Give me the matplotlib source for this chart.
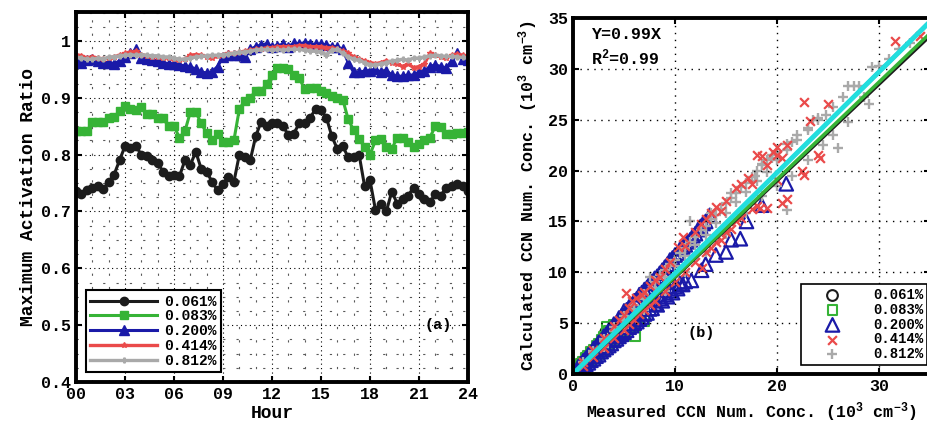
import numpy as np
import matplotlib
matplotlib.use('Agg')
import matplotlib.pyplot as plt
from matplotlib.ticker import MultipleLocator

plt.rcParams['font.family'] = ['Liberation Mono', 'DejaVu Sans Mono']
plt.rcParams['font.weight'] = 'bold'
plt.rcParams['axes.labelweight'] = 'bold'
plt.rcParams['mathtext.fontset'] = 'custom'
plt.rcParams['mathtext.rm'] = 'Liberation Mono:bold'
plt.rcParams['mathtext.it'] = 'Liberation Mono:bold'
plt.rcParams['mathtext.bf'] = 'Liberation Mono:bold'

# ---- panel (a): diurnal max activation ratio, 20-min steps ----
hours = np.arange(73) / 3.0
labels = ['0.061%', '0.083%', '0.200%', '0.414%', '0.812%']
ss061 = [0.736, 0.73, 0.738, 0.742, 0.745, 0.74, 0.752, 0.765, 0.79, 0.815, 0.812, 0.815,
         0.80, 0.798, 0.79, 0.785, 0.77, 0.762, 0.765, 0.762, 0.79, 0.782, 0.805, 0.775,
         0.77, 0.752, 0.737, 0.748, 0.76, 0.752, 0.80, 0.795, 0.79, 0.832, 0.858, 0.85,
         0.855, 0.855, 0.85, 0.835, 0.837, 0.855, 0.855, 0.865, 0.88, 0.878, 0.865, 0.832,
         0.81, 0.815, 0.795, 0.795, 0.80, 0.745, 0.755, 0.703, 0.714, 0.70, 0.735, 0.714,
         0.722, 0.728, 0.742, 0.73, 0.722, 0.717, 0.73, 0.728, 0.742, 0.745, 0.748, 0.745,
         0.736]
ss083 = [0.841, 0.841, 0.841, 0.858, 0.858, 0.858, 0.865, 0.866, 0.877, 0.885, 0.88, 0.878,
         0.883, 0.872, 0.872, 0.864, 0.864, 0.85, 0.85, 0.83, 0.841, 0.875, 0.875, 0.855,
         0.838, 0.825, 0.837, 0.822, 0.822, 0.825, 0.88, 0.895, 0.9, 0.912, 0.912, 0.924,
         0.94, 0.952, 0.952, 0.95, 0.94, 0.935, 0.915, 0.917, 0.917, 0.912, 0.908, 0.903,
         0.9, 0.897, 0.862, 0.843, 0.828, 0.813, 0.80, 0.825, 0.828, 0.813, 0.81, 0.83,
         0.83, 0.822, 0.813, 0.818, 0.825, 0.83, 0.85, 0.848, 0.837, 0.837, 0.838, 0.838,
         0.84]
ss200 = [0.965, 0.962, 0.966, 0.968, 0.965, 0.962, 0.962, 0.96, 0.965, 0.972, 0.978, 0.985,
         0.97, 0.968, 0.966, 0.965, 0.962, 0.96, 0.96, 0.958, 0.956, 0.955, 0.95, 0.945,
         0.944, 0.946, 0.955, 0.972, 0.976, 0.975, 0.975, 0.972, 0.985, 0.99, 0.993, 0.995,
         0.99, 0.992, 0.994, 0.99, 0.996, 0.995, 0.997, 0.995, 0.994, 0.995, 0.993, 0.99,
         0.99, 0.985, 0.962, 0.945, 0.945, 0.947, 0.948, 0.95, 0.945, 0.948, 0.94, 0.938,
         0.938, 0.94, 0.94, 0.945, 0.947, 0.955, 0.958, 0.955, 0.952, 0.965, 0.978, 0.968,
         0.966]
ss414 = [0.976, 0.974, 0.97, 0.972, 0.97, 0.968, 0.97, 0.972, 0.975, 0.978, 0.98, 0.982,
         0.976, 0.974, 0.972, 0.972, 0.97, 0.97, 0.968, 0.966, 0.968, 0.975, 0.976, 0.975,
         0.972, 0.97, 0.974, 0.976, 0.978, 0.978, 0.98, 0.982, 0.984, 0.985, 0.986, 0.988,
         0.988, 0.99, 0.99, 0.99, 0.99, 0.992, 0.992, 0.99, 0.99, 0.99, 0.988, 0.988,
         0.986, 0.982, 0.978, 0.972, 0.968, 0.965, 0.962, 0.96, 0.962, 0.965, 0.962, 0.96,
         0.955, 0.96, 0.953, 0.955, 0.96, 0.978, 0.975, 0.972, 0.97, 0.975, 0.977, 0.975,
         0.973]
ss812 = [0.972, 0.97, 0.968, 0.968, 0.97, 0.968, 0.972, 0.972, 0.974, 0.975, 0.976, 0.975,
         0.976, 0.975, 0.974, 0.974, 0.972, 0.972, 0.97, 0.968, 0.968, 0.97, 0.972, 0.973,
         0.974, 0.975, 0.975, 0.976, 0.977, 0.978, 0.98, 0.981, 0.982, 0.984, 0.985, 0.985,
         0.984, 0.985, 0.984, 0.985, 0.986, 0.985, 0.984, 0.983, 0.982, 0.98, 0.976, 0.984,
         0.985, 0.978, 0.972, 0.968, 0.966, 0.962, 0.958, 0.958, 0.96, 0.962, 0.965, 0.966,
         0.968, 0.966, 0.97, 0.97, 0.972, 0.974, 0.975, 0.974, 0.973, 0.973, 0.972, 0.971,
         0.97]

# ---- panel (b): measured vs calculated CCN (10^3 cm^-3) ----
meas061 = [0.2, 0.5, 1.0, 1.5, 2.0, 2.5, 3.0, 3.2, 0.8, 1.5, 2.5, 3.5, 4.0, 5.0]
calc061 = [0.2, 0.55, 1.1, 1.6, 2.2, 2.7, 3.2, 4.1, 0.6, 1.2, 2.1, 3.0, 3.6, 4.5]
meas083 = [0.3, 0.6, 1.0, 1.5, 2.0, 2.5, 3.0, 3.3, 3.5, 4.0, 0.5, 1.0, 1.5, 2.0, 2.5,
           3.0, 3.5, 4.0, 4.5, 5.0, 5.5, 6.1, 6.0, 6.5,
           0.8, 1.3, 1.8, 2.3, 2.8, 1.2, 1.7, 2.2, 2.7, 3.2, 3.8, 4.3, 4.8, 7.0]
calc083 = [0.35, 0.75, 1.2, 1.8, 2.4, 3.0, 3.6, 4.65, 4.2, 4.8, 0.4, 0.8, 1.2, 1.6, 2.0,
           2.4, 2.9, 3.3, 3.8, 4.2, 4.6, 3.7, 5.1, 5.6,
           1.0, 1.6, 2.2, 2.8, 3.4, 0.9, 1.35, 1.75, 2.2, 2.6, 3.1, 3.55, 4.0, 5.2]
meas200 = [0.5, 1.0, 1.5, 2.0, 2.5, 3.0, 3.5, 4.0, 4.5, 5.0, 5.5, 6.0, 6.5, 7.0, 7.5, 8.0,
           8.5, 9.0, 9.5, 10.0, 10.5, 11.0, 11.5, 12.0, 12.5, 13.0, 13.4,
           0.75, 1.25, 1.75, 2.25, 2.75, 3.25, 3.75, 4.25, 4.75, 5.25, 5.75, 6.25, 6.75,
           7.25, 7.75, 8.25, 8.75, 9.25, 9.75, 10.25, 10.75, 11.25, 11.75, 12.25, 12.75,
           0.5, 1.0, 1.5, 2.0, 2.5, 3.0, 3.5, 4.0, 4.5, 5.0, 5.5, 6.0, 6.5, 7.0, 7.5, 8.0,
           8.5, 9.0, 9.5, 10.0, 10.5, 11.0, 11.6, 12.6, 13.0, 14.0, 15.0, 15.5, 16.4, 17.0,
           18.5, 20.9,
           0.75, 1.25, 1.75, 2.25, 2.75, 3.25, 3.75, 4.25, 4.75, 5.25, 5.75, 6.25, 6.75,
           7.25, 7.75, 8.25, 8.75, 9.25, 9.75, 10.25, 10.75]
calc200 = [0.7, 1.3, 1.9, 2.5, 3.1, 3.7, 4.3, 4.9, 5.5, 6.2, 6.6, 7.2, 7.8, 8.3, 8.9, 9.4,
           9.9, 10.5, 11.2, 11.7, 12.3, 12.7, 13.2, 13.8, 14.5, 15.0, 15.6,
           1.0, 1.55, 2.1, 2.7, 3.3, 3.9, 4.5, 5.0, 5.7, 6.3, 6.8, 7.4, 8.0,
           8.5, 9.1, 9.6, 10.2, 10.8, 11.4, 11.9, 12.5, 13.0, 13.6, 14.2, 14.8,
           0.3, 0.7, 1.1, 1.5, 1.9, 2.4, 2.8, 3.3, 3.7, 4.1, 4.6, 5.0, 5.4, 5.9, 6.4, 6.9,
           7.4, 7.8, 8.2, 8.6, 8.9, 9.1, 9.2, 10.2, 10.8, 11.7, 12.0, 13.2, 13.3, 15.0,
           16.6, 18.7,
           0.55, 0.95, 1.35, 1.75, 2.2, 2.6, 3.0, 3.45, 3.9, 4.3, 4.75, 5.15, 5.6,
           6.0, 6.45, 6.8, 7.2, 7.6, 8.0, 8.4, 8.8]
meas414 = [1.0, 2.0, 3.0, 4.0, 5.0, 5.5, 6.2, 6.8, 7.5, 8.5, 9.5, 10.3, 10.8, 12.0, 13.0,
           14.0, 15.0, 16.0, 16.5, 17.2, 18.5, 19.6, 20.0, 20.5, 22.6, 23.2, 25.0, 31.6, 34.0,
           1.0, 2.0, 3.0, 4.0, 5.0, 6.0, 7.0, 8.0, 9.0, 10.0, 11.0, 12.0, 13.0, 14.0, 15.0,
           16.0, 17.5, 18.0, 19.0, 20.5, 21.0, 20.0, 22.6, 22.4, 24.0, 24.2,
           4.5, 5.2, 5.8, 7.0, 8.0, 9.0, 11.0, 12.5, 13.5, 14.5, 17.5, 18.0, 19.0, 20.0, 21.0,
           5.5, 6.5, 7.5, 12.6, 13.5, 14.5, 15.5, 16.5, 18.3]
calc414 = [1.2, 2.4, 3.5, 4.7, 5.8, 6.5, 7.5, 7.8, 8.7, 9.5, 11.0, 12.5, 13.5, 14.0, 15.2,
           16.4, 17.0, 18.3, 18.7, 19.3, 21.4, 21.8, 22.3, 21.2, 26.7, 24.9, 26.5, 32.7, 33.2,
           0.8, 1.7, 2.6, 3.5, 4.3, 5.3, 6.3, 7.2, 8.2, 9.0, 10.0, 11.0, 12.0, 13.0, 14.0,
           15.0, 16.2, 16.5, 16.3, 16.8, 17.2, 19.1, 19.6, 20.0, 21.5, 21.2,
           5.3, 8.0, 7.2, 8.1, 9.2, 10.3, 12.6, 14.7, 15.8, 16.0, 18.7, 21.5, 20.5, 21.5, 22.5,
           4.9, 5.9, 6.8, 10.4, 12.4, 13.2, 14.3, 15.3, 16.3]
meas812 = [1.0, 2.0, 3.0, 4.0, 5.0, 6.0, 7.0, 7.5, 8.0, 9.0, 10.0, 11.0, 11.5, 12.0, 13.0,
           13.5, 14.0, 15.0, 15.5, 16.0, 17.0, 17.8, 18.0, 18.5, 19.0, 19.5, 20.0, 21.0, 21.5,
           22.0, 23.0, 23.5, 24.0, 24.8, 25.5, 26.5, 27.0, 27.5, 28.0, 28.5, 29.3, 30.0, 31.0,
           32.0, 33.0,
           3.0, 5.0, 7.0, 9.0, 11.0, 13.0, 15.0, 17.0, 18.5, 20.0, 21.0, 21.5, 23.0, 24.5,
           26.0, 25.5, 27.0, 29.0,
           2.0, 3.0, 4.0, 5.0, 6.0, 7.0, 8.0, 9.0, 10.0, 11.0, 12.0, 13.0, 14.0, 15.0, 16.0,
           17.0, 18.0, 19.0, 20.0, 21.0, 22.0, 23.0, 24.0,
           8.5, 9.5, 10.5, 11.5, 12.5, 13.5, 14.5, 15.5, 16.5, 17.5, 18.5, 19.5]
calc812 = [1.15, 2.3, 3.4, 4.6, 5.7, 6.8, 7.9, 9.5, 9.0, 10.2, 11.2, 12.4, 15.0, 13.5, 14.6,
           15.8, 15.6, 16.8, 17.8, 17.8, 18.8, 19.5, 20.0, 20.5, 21.0, 21.5, 21.8, 22.6, 22.8,
           23.5, 24.2, 25.0, 25.2, 25.5, 26.3, 27.2, 28.3, 28.3, 28.3, 27.2, 30.2, 30.3, 31.0,
           32.0, 32.5,
           2.7, 4.5, 6.3, 8.2, 10.0, 12.0, 13.8, 15.8, 17.5, 18.5, 16.1, 19.5, 21.0, 22.5,
           22.2, 23.5, 24.8, 26.5,
           2.15, 3.2, 4.25, 5.3, 6.4, 7.4, 8.5, 9.5, 10.6, 11.6, 12.7, 13.7, 14.8, 15.8, 16.9,
           17.9, 19.0, 19.9, 21.0, 22.0, 23.0, 24.0, 25.0,
           9.7, 10.8, 11.9, 13.0, 14.2, 15.2, 16.2, 17.3, 18.4, 19.4, 20.6, 21.2]
fit_slopes = [0.95, 0.957, 0.995, 0.985, 0.99]
fit_all = 0.99

c_blk = '#1c1c1c'
c_grn = '#36b336'
c_blu = '#1a1aa8'
c_red = '#ea4a4a'
c_gry = '#a9a9a9'
c_cyn = '#22dede'

fig = plt.figure(figsize=(9.28, 4.25), dpi=100)

# ================= panel (a) =================
ax1 = fig.add_axes([0.0819, 0.1012, 0.4224, 0.8706])
ax1.plot(hours, ss061, '-o', color=c_blk, lw=2.2, ms=6, label=labels[0])
ax1.plot(hours, ss083, '-s', color=c_grn, lw=2.2, ms=5.5, label=labels[1])
ax1.plot(hours, ss200, '-^', color=c_blu, lw=2.2, ms=7, label=labels[2])
ax1.plot(hours, ss414, '-*', color=c_red, lw=2.4, ms=4, label=labels[3])
ax1.plot(hours, ss812, '-P', color=c_gry, lw=2.4, ms=3.5, label=labels[4])
ax1.set_xlim(0, 24)
ax1.set_ylim(0.4, 1.051)
ax1.set_xticks(np.arange(0, 25, 3))
ax1.set_xticklabels(['%02d' % h for h in range(0, 25, 3)])
ax1.set_yticks([0.4, 0.5, 0.6, 0.7, 0.8, 0.9, 1.0])
ax1.set_yticklabels(['0.4', '0.5', '0.6', '0.7', '0.8', '0.9', '1'])
ax1.xaxis.set_minor_locator(MultipleLocator(1))
ax1.yaxis.set_minor_locator(MultipleLocator(0.025))
ax1.grid(which='major', ls=(0, (1, 3)), color='k', lw=0.8)
ax1.grid(which='minor', ls=(0, (2, 10)), color='0.35', lw=0.8)
ax1.tick_params(which='both', direction='in', top=True, right=True, labelsize=12)
ax1.tick_params(which='major', length=4, width=1.5)
ax1.tick_params(which='minor', length=0)
for s in ax1.spines.values():
    s.set_linewidth(2.8)
ax1.set_xlabel('Hour', fontsize=13, labelpad=2)
ax1.set_ylabel('Maximum Activation Ratio', fontsize=13, labelpad=3)
ax1.text(22.2, 0.5, '(a)', fontsize=11, ha='center', va='center')
leg1 = ax1.legend(loc='lower left', bbox_to_anchor=(0.025, 0.027), borderaxespad=0,
                  fontsize=10.5, handlelength=4.6, handletextpad=0.5, labelspacing=0.05,
                  borderpad=0.3, numpoints=1, fancybox=False, framealpha=1,
                  edgecolor='k')
leg1.get_frame().set_linewidth(1.5)

# ================= panel (b) =================
ax2 = fig.add_axes([0.6175, 0.12, 0.3847, 0.8376])
h061 = ax2.scatter(meas061, calc061, s=60, marker='o', facecolors='none', edgecolors=c_blk, lw=1.5)
h083 = ax2.scatter(meas083, calc083, s=50, marker='s', facecolors='none', edgecolors=c_grn, lw=1.5)
h200 = ax2.scatter(meas200, calc200, s=95, marker='^', facecolors='none', edgecolors=c_blu, lw=1.6)
h812 = ax2.scatter(meas812, calc812, s=60, marker='+', color=c_gry, lw=1.7)
h414 = ax2.scatter(meas414, calc414, s=40, marker='x', color=c_red, lw=1.6)

xfit = np.array([0, 35])
fit_colors = [c_blk, c_grn, c_blu, c_red, c_gry]
fit_widths = [2.5, 2.5, 1.2, 1.2, 1.2]
for k in range(5):
    ax2.plot(xfit, fit_slopes[k] * xfit, color=fit_colors[k], lw=fit_widths[k])
ax2.plot(xfit, fit_all * xfit, color=c_cyn, lw=3.5)

ax2.set_xlim(0, 35)
ax2.set_ylim(0, 35)
ax2.set_xticks([0, 10, 20, 30])
ax2.set_yticks(np.arange(0, 36, 5))
ax2.grid(which='major', ls=(0, (1, 4)), color='k', lw=1.0)
ax2.tick_params(which='both', direction='in', top=True, right=True, labelsize=12,
                length=4, width=1.5)
for s in ax2.spines.values():
    s.set_linewidth(2.8)
ax2.set_xlabel('Measured CCN Num. Conc. (10$^{3}$ cm$^{-3}$)', fontsize=12, labelpad=5)
ax2.set_ylabel('Calculated CCN Num. Conc. (10$^{3}$ cm$^{-3}$)', fontsize=12, labelpad=6)
ax2.text(1.8, 33.4, 'Y=0.99X', fontsize=12, ha='left', va='center')
ax2.text(1.8, 31.1, 'R$^{2}$=0.99', fontsize=12, ha='left', va='center')
ax2.text(12.6, 4.0, '(b)', fontsize=11, ha='center', va='center')
leg2 = ax2.legend([h061, h083, h200, h414, h812], labels, loc='lower right',
                  bbox_to_anchor=(0.992, 0.025), borderaxespad=0, fontsize=10,
                  handlelength=4, handletextpad=0.9, labelspacing=0.05, borderpad=0.3,
                  scatterpoints=1, fancybox=False, framealpha=1, edgecolor='k')
leg2.get_frame().set_linewidth(1.2)

fig.savefig('out.png', dpi=100)
